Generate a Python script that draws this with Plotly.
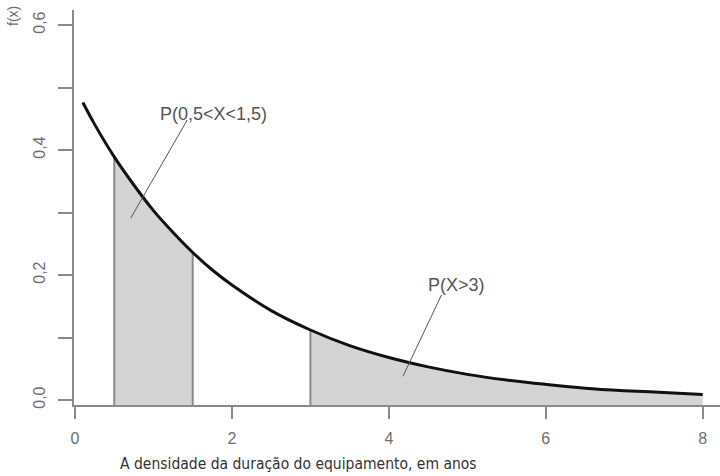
import plotly.graph_objects as go

# ---- data ----
x_vals = [0.1, 0.25, 0.5, 0.75, 1.0, 1.25, 1.5, 1.75, 2.0, 2.5, 3.0, 3.5,
          4.0, 4.5, 5.0, 5.5, 6.0, 6.5, 7.0, 7.5, 8.0]
f_vals = [0.476, 0.441, 0.389, 0.344, 0.303, 0.268, 0.236, 0.208, 0.184,
          0.143, 0.112, 0.087, 0.068, 0.053, 0.041, 0.032, 0.025, 0.019,
          0.015, 0.012, 0.009]
regions = [(0.5, 1.5), (3.0, 8.0)]
region_labels = ["P(0,5<X<1,5)", "P(X>3)"]
label_pos = [(1.76, 0.458), (4.86, 0.184)]
leader_lines = [((1.43, 0.448), (0.71, 0.291)), ((4.67, 0.168), (4.18, 0.038))]
y_tickvals = [0.0, 0.1, 0.2, 0.3, 0.4, 0.5, 0.6]
y_ticktext = ["0,0", "", "0,2", "", "0,4", "", "0,6"]
x_tickvals = [0, 2, 4, 6, 8]
x_ticktext = ["0", "2", "4", "6", "8"]
x_title = "A densidade da duração do equipamento, em anos"
y_title = "f(x)"

X_RANGE = [-0.013, 8.22]
Y_RANGE = [-0.008, 0.624]

AXIS_COL = "#8a8a8a"
FILL_COL = "#d4d4d4"
TEXT_COL = "#6e6e6e"

fig = go.Figure()

# shaded regions
for a, b in regions:
    xs = [x for x in x_vals if a <= x <= b]
    ys = [y for x, y in zip(x_vals, f_vals) if a <= x <= b]
    fig.add_trace(go.Scatter(
        x=xs + [b, a], y=ys + [Y_RANGE[0], Y_RANGE[0]],
        fill="toself", fillcolor=FILL_COL, mode="lines",
        line=dict(width=0), hoverinfo="skip", showlegend=False))
    for xb in (a, b):
        if xb < 8:
            yb = f_vals[x_vals.index(xb)]
            fig.add_trace(go.Scatter(
                x=[xb, xb], y=[Y_RANGE[0], yb], mode="lines",
                line=dict(color=AXIS_COL, width=2),
                hoverinfo="skip", showlegend=False))

# density curve
fig.add_trace(go.Scatter(
    x=x_vals, y=f_vals, mode="lines",
    line=dict(color="#111111", width=3, shape="spline"),
    showlegend=False))

# leader lines and labels
for (p0, p1), txt, (lx, ly) in zip(leader_lines, region_labels, label_pos):
    fig.add_shape(type="line", x0=p0[0], y0=p0[1], x1=p1[0], y1=p1[1],
                  xref="x", yref="y", line=dict(color="#555555", width=1))
    fig.add_annotation(x=lx, y=ly, xref="x", yref="y", text=txt,
                       showarrow=False,
                       font=dict(family="Liberation Sans, Arial", size=18,
                                 color="#555555"))

# axis titles
fig.add_annotation(x=(13 - 74) / 646, y=(405 - 16) / 395,
                   xref="paper", yref="paper",
                   xanchor="center", yanchor="middle",
                   text=y_title, textangle=-90, showarrow=False,
                   font=dict(family="Liberation Sans, Arial", size=14,
                             color=TEXT_COL))
fig.add_annotation(x=(118 - 74) / 646, y=(405 - 464) / 395,
                   xref="paper", yref="paper",
                   xanchor="left", yanchor="middle",
                   text=x_title, showarrow=False,
                   font=dict(family="DejaVu Sans Condensed, Liberation Sans",
                             size=15.5, color="#333333"))

fig.update_layout(
    width=720, height=476,
    margin=dict(l=74, r=0, t=10, b=71),
    paper_bgcolor="white", plot_bgcolor="white",
    xaxis=dict(range=X_RANGE, tickvals=x_tickvals, ticktext=x_ticktext,
               showgrid=False, zeroline=False, showline=True,
               linecolor=AXIS_COL, linewidth=2, ticks="outside",
               ticklen=12, tickwidth=1.5, tickcolor=AXIS_COL,
               ticklabelstandoff=6,
               tickfont=dict(family="Liberation Sans, Arial", size=16,
                             color=TEXT_COL)),
    yaxis=dict(range=Y_RANGE, tickvals=y_tickvals, ticktext=y_ticktext,
               showgrid=False, zeroline=False, showline=True,
               linecolor=AXIS_COL, linewidth=2, ticks="outside",
               ticklen=14, tickwidth=1.5, tickcolor=AXIS_COL,
               tickangle=-90, ticklabelstandoff=7,
               tickfont=dict(family="Liberation Sans, Arial", size=16,
                             color=TEXT_COL)),
)

fig.write_html("out.html",
               config={"displayModeBar": False},
               post_script="document.body.style.margin='0';"
                           "document.body.style.overflow='hidden';")
